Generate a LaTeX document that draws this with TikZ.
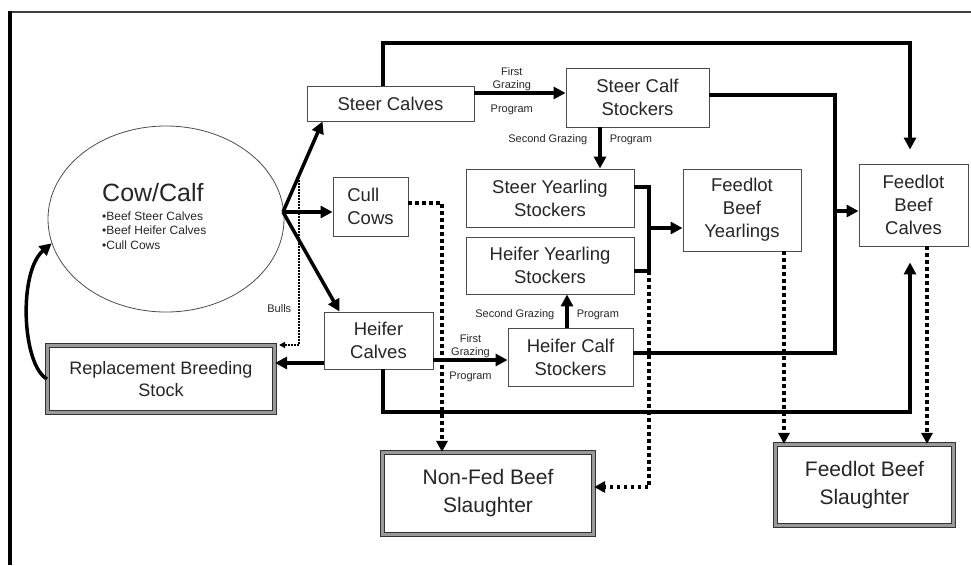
\documentclass[tikz,border=0pt]{standalone}
\usepackage{fontspec}
\setmainfont{Liberation Sans}
\usetikzlibrary{arrows.meta,shapes.geometric}

\tikzset{
  box/.style={draw=black!70, line width=0.9pt, fill=white, align=center, inner sep=1pt, text=black!85, font=\fontsize{18.5}{23}\selectfont},
  bigbox/.style={draw=black!80, double=black!40, double distance=2.4pt, line width=1.1pt, fill=white, align=center, inner sep=1pt, text=black!85},
  lbl/.style={font=\fontsize{11}{13}\selectfont, inner sep=1pt, align=center, text=black!85},
  flow/.style={line width=3.5pt},
  arr/.style={flow, -{Triangle[length=12pt,width=12pt]}},
  dotarr/.style={line width=3.5pt, dash pattern=on 3.5pt off 3.5pt, -{Triangle[length=11pt,width=11pt]}},
  bullarr/.style={line width=1.5pt, dash pattern=on 1.5pt off 1.5pt, -{Triangle[length=6pt,width=6pt]}},
}

\begin{document}
\begin{tikzpicture}[x=1pt,y=-1pt]
\useasboundingbox (0,0) rectangle (971,565);
% frame
\draw[line width=2pt,black!75] (9,12) -- (971,12);
\draw[line width=3.5pt] (10,11) -- (10,565);

% cow/calf
\node[ellipse, draw=black!70, line width=0.8pt, minimum width=236pt, minimum height=186pt] (cowcalf) at (166,219) {};
\node[anchor=base west, inner sep=0pt, text=black!85, font=\fontsize{25}{28}\selectfont] (cowtitle) at (102,201) {Cow/Calf};
\node[anchor=north west, inner sep=0pt, align=left, text=black!85, font=\fontsize{12}{14.5}\selectfont] (cowlist) at (102,211.5) {•Beef Steer Calves\\•Beef Heifer Calves\\•Cull Cows};

% boxes
\node[box, minimum width=167pt, minimum height=35pt] (steercalves) at (390.5,103.5) {Steer Calves};
\node[box, minimum width=143pt, minimum height=59pt] (steercalfst) at (637.5,97.5) {Steer Calf\\Stockers};
\node[box, align=left, minimum width=75pt, minimum height=59pt] (cullcows) at (370.5,206.5) {Cull\\Cows};
\node[box, minimum width=168pt, minimum height=58pt] (steeryear) at (550,198) {Steer Yearling\\Stockers};
\node[box, minimum width=168pt, minimum height=57pt] (heiferyear) at (550,265.5) {Heifer Yearling\\Stockers};
\node[box, minimum width=125pt, minimum height=58pt] (heifercalfst) at (570.5,357) {Heifer Calf\\Stockers};
\node[box, minimum width=109pt, minimum height=57pt] (heifercalves) at (378.5,340.5) {Heifer\\Calves};
\node[box, minimum width=118pt, minimum height=82pt] (fbyear) at (742,210) {Feedlot\\Beef\\Yearlings};
\node[box, minimum width=109pt, minimum height=82pt] (fbcalves) at (913.5,205) {Feedlot\\Beef\\Calves};
\node[bigbox, font=\fontsize{18}{22}\selectfont, minimum width=227pt, minimum height=67pt] (replacement) at (161,379) {Replacement Breeding\\Stock};
\node[bigbox, font=\fontsize{21}{28}\selectfont, minimum width=211pt, minimum height=82pt] (nonfed) at (488,493.5) {Non-Fed Beef\\Slaughter};
\node[bigbox, font=\fontsize{21}{28}\selectfont, minimum width=178pt, minimum height=81pt] (fbslaughter) at (864.5,485) {Feedlot Beef\\Slaughter};

% bends
\coordinate (fan) at (283,212);
\coordinate (bulls) at (299,180);
\coordinate (join) at (649,228);
\coordinate (jbot) at (649,271);
\coordinate (rail) at (835,211);
\coordinate (topbar) at (600,43);
\coordinate (botbar) at (600,412);

% solid flows
\draw[arr] (fan) -- ([xshift=16pt]steercalves.south west);
\draw[arr] (fan) -- (fan -| cullcows.west);
\draw[arr] (fan) -- ([xshift=16pt]heifercalves.north west);
\draw[arr] ([yshift=10.5pt]steercalves.east) -- ([yshift=10.5pt]steercalves.east -| steercalfst.west)
  node[lbl, pos=0.41, above=-1pt] (firststeer) {First\\Grazing}
  node[lbl, pos=0.41, below=9pt] (progsteer) {Program};
\draw[arr] ([yshift=-19.5pt]heifercalves.east) -- ([yshift=-19.5pt]heifercalves.east -| heifercalfst.west)
  node[lbl, pos=0.5, above=-1pt] (firstheifer) {First\\Grazing}
  node[lbl, pos=0.5, below=9pt] (progheifer) {Program};
\draw[arr] ([xshift=-37.5pt]steercalfst.south) -- ([xshift=-37.5pt]steercalfst.south |- steeryear.north)
  node[lbl, pos=0.3, left=10pt] (secsteer) {Second Grazing}
  node[lbl, pos=0.3, right=7pt] (prog2steer) {Program};
\draw[arr] ([xshift=-3.5pt]heifercalfst.north) -- ([xshift=-3.5pt]heifercalfst.north |- heiferyear.south)
  node[lbl, pos=0.38, left=10pt] (secheifer) {Second Grazing}
  node[lbl, pos=0.38, right=7pt] (prog2heifer) {Program};
\draw[flow] ([yshift=11pt]steeryear.east) -| (join) |- ([yshift=-5.5pt]heiferyear.east);
\draw[arr] (join) -- (join -| fbyear.west);
\draw[flow] ([yshift=2.5pt]steercalfst.east) -| (rail) |- ([yshift=4pt]heifercalfst.east);
\draw[arr] (rail) -- (rail -| fbcalves.west);
\draw[arr, shorten >=14pt] ([xshift=-7.5pt]steercalves.north) |- (topbar) -| ([xshift=-3.5pt]fbcalves.north);
\draw[arr, shorten >=16pt] ([xshift=4.5pt]heifercalves.south) |- (botbar) -| ([xshift=-3.5pt]fbcalves.south);
\draw[arr] ([yshift=-22.5pt]heifercalves.west) -- ([yshift=-22.5pt]heifercalves.west -| replacement.east);
\draw[arr] (replacement.west) .. controls (22,365) and (18,272) .. (cowcalf.192);

% dotted flows
\draw[bullarr, shorten >=4pt] (bulls) |- (replacement.north east)
  node[lbl, pos=0.39, left=6pt] (bullslbl) {Bulls};
\draw[dotarr] ([yshift=3.5pt]cullcows.east) -| ([xshift=-46pt]nonfed.north);
\draw[dotarr] (jbot) |- ([yshift=6.5pt]nonfed.east);
\draw[dotarr] ([xshift=42pt]fbyear.south) -- ([xshift=42pt]fbyear.south |- fbslaughter.north);
\draw[dotarr] ([xshift=13.5pt]fbcalves.south) -- ([xshift=13.5pt]fbcalves.south |- fbslaughter.north);
\end{tikzpicture}
\end{document}
